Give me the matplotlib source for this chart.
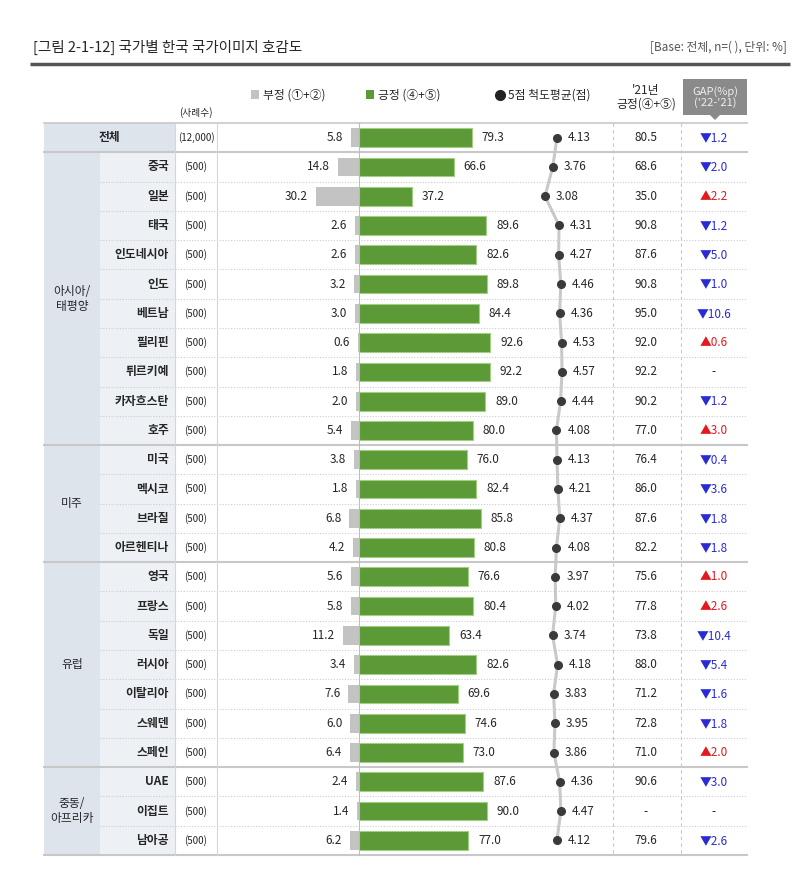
import matplotlib.pyplot as plt
from matplotlib.patches import Rectangle, Polygon

plt.rcParams['font.family'] = ['Noto Sans CJK KR', 'DejaVu Sans']

# data
countries = ['전체', '중국', '일본', '태국', '인도네시아', '인도', '베트남', '필리핀', '튀르키예',
             '카자흐스탄', '호주', '미국', '멕시코', '브라질', '아르헨티나', '영국', '프랑스',
             '독일', '러시아', '이탈리아', '스웨덴', '스페인', 'UAE', '이집트', '남아공']
samples = ['(12,000)'] + ['(500)'] * 24
negative = [5.8, 14.8, 30.2, 2.6, 2.6, 3.2, 3.0, 0.6, 1.8, 2.0, 5.4, 3.8, 1.8, 6.8, 4.2,
            5.6, 5.8, 11.2, 3.4, 7.6, 6.0, 6.4, 2.4, 1.4, 6.2]
positive = [79.3, 66.6, 37.2, 89.6, 82.6, 89.8, 84.4, 92.6, 92.2, 89.0, 80.0, 76.0, 82.4,
            85.8, 80.8, 76.6, 80.4, 63.4, 82.6, 69.6, 74.6, 73.0, 87.6, 90.0, 77.0]
means = [4.13, 3.76, 3.08, 4.31, 4.27, 4.46, 4.36, 4.53, 4.57, 4.44, 4.08, 4.13, 4.21,
         4.37, 4.08, 3.97, 4.02, 3.74, 4.18, 3.83, 3.95, 3.86, 4.36, 4.47, 4.12]
positive_21 = [80.5, 68.6, 35.0, 90.8, 87.6, 90.8, 95.0, 92.0, 92.2, 90.2, 77.0, 76.4, 86.0,
               87.6, 82.2, 75.6, 77.8, 73.8, 88.0, 71.2, 72.8, 71.0, 90.6, None, 79.6]
gaps = [-1.2, -2.0, 2.2, -1.2, -5.0, -1.0, -10.6, 0.6, None, -1.2, 3.0, -0.4, -3.6, -1.8,
        -1.8, 1.0, 2.6, -10.4, -5.4, -1.6, -1.8, 2.0, -3.0, None, -2.6]
regions = ['아시아/\n태평양', '미주', '유럽', '중동/\n아프리카']
region_rows = [(1, 10), (11, 14), (15, 21), (22, 24)]

# layout (pixels)
W, H = 800, 876
TOP, BOTTOM = 123, 855
n = len(countries)
RH = (BOTTOM - TOP) / n
X_L, X_REG, X_CTRY, X_SAMP, X_ZERO, X_D1, X_D2, X_R = 44, 100, 175, 217, 359, 613, 681, 747
TXT = '#262626'
GREEN = '#5b9a36'
GRAY = '#c3c3c3'
BLUE = '#2b2bd6'
RED = '#e3191e'
FS = 8.5


def yc(i):
    return TOP + (i + 0.5) * RH


fig = plt.figure(figsize=(W / 100, H / 100), dpi=100)
bg = fig.add_axes([0, 0, 1, 1])
bg.set_xlim(0, W)
bg.set_ylim(H, 0)
bg.axis('off')

# title
bg.text(33, 47, '[그림 2-1-12] 국가별 한국 국가이미지 호감도', fontsize=10.5, color=TXT, va='center')
bg.text(787, 47, '[Base: 전체, n=( ), 단위: %]', fontsize=8.5, color='#555555', va='center', ha='right')
bg.plot([30, 790], [64, 64], color='#555555', lw=2.5, solid_capstyle='butt')

# header
bg.add_patch(Rectangle((251, 90), 8, 9, color=GRAY, lw=0))
bg.text(263, 95, '부정 (①+②)', fontsize=FS, color=TXT, va='center')
bg.add_patch(Rectangle((366, 90), 8, 9, color=GREEN, lw=0))
bg.text(378, 95, '긍정 (④+⑤)', fontsize=FS, color=TXT, va='center')
bg.plot(500, 95, 'o', color='#222222', ms=7)
bg.text(508, 95, '5점 척도평균(점)', fontsize=FS, color=TXT, va='center')
bg.text(196, 113, '(사례수)', fontsize=7, color=TXT, va='center', ha='center')
bg.text(646, 97, "'21년\n긍정(④+⑤)", fontsize=FS, color=TXT, va='center', ha='center',
        linespacing=1.05)
bg.add_patch(Polygon([(683, 79), (747, 79), (747, 115), (720, 115), (715, 120), (710, 115),
                      (683, 115)], closed=True, color='#8a8a8a', lw=0))
bg.text(715, 97, "GAP(%p)\n('22-'21)", fontsize=8, color='#eeeeee', va='center', ha='center',
        linespacing=1.05)

# table backgrounds
bg.add_patch(Rectangle((X_L, TOP), X_CTRY - X_L, RH, color='#dde4ec', lw=0))
bg.add_patch(Rectangle((X_L, TOP + RH), X_REG - X_L, BOTTOM - TOP - RH, color='#dde4ec', lw=0))
bg.add_patch(Rectangle((X_REG, TOP + RH), X_CTRY - X_REG, BOTTOM - TOP - RH, color='#edf1f5', lw=0))

# grid lines
bg.plot([X_L, X_R], [TOP, TOP], color='#c8c8c8', lw=1.2)
bg.plot([X_L, X_R], [BOTTOM, BOTTOM], color='#c8c8c8', lw=1.5)
group_starts = [1] + [r[0] for r in region_rows[1:]]
for s in group_starts:
    y = TOP + s * RH
    bg.plot([X_L, X_R], [y, y], color='#c8c8c8', lw=1.5)
for s, e in region_rows:
    for i in range(s + 1, e + 1):
        y = TOP + i * RH
        bg.plot([X_REG, X_R], [y, y], color='#cccccc', lw=0.8, ls=(0, (1, 1.5)))
for x in (X_CTRY, X_SAMP):
    bg.plot([x, x], [TOP, BOTTOM], color='#d6d6d6', lw=0.8)
bg.plot([X_ZERO, X_ZERO], [TOP, BOTTOM], color='#bdbdbd', lw=0.8)
for x in (X_D1, X_D2):
    bg.plot([x, x], [TOP, BOTTOM], color='#c8c8c8', lw=0.8, ls=(0, (3, 3)))

# table texts
bg.text((X_L + X_CTRY) / 2, yc(0), countries[0], fontsize=FS, color=TXT, ha='center',
        va='center', weight='bold')
for i in range(1, n):
    bg.text(X_CTRY - 6, yc(i), countries[i], fontsize=FS, color=TXT, ha='right', va='center',
            weight='bold')
for (s, e), name in zip(region_rows, regions):
    bg.text((X_L + X_REG) / 2, (yc(s) + yc(e)) / 2, name, fontsize=FS, color=TXT,
            ha='center', va='center', linespacing=1.2)
for i in range(n):
    bg.text((X_CTRY + X_SAMP) / 2, yc(i), samples[i], fontsize=7, color=TXT,
            ha='center', va='center')
    p21 = '-' if positive_21[i] is None else f'{positive_21[i]:.1f}'
    bg.text(646, yc(i), p21, fontsize=FS, color=TXT, ha='center', va='center')
    g = gaps[i]
    if g is None:
        bg.text(714, yc(i), '-', fontsize=FS, color=TXT, ha='center', va='center')
    else:
        sym = '▲' if g > 0 else '▼'
        bg.text(714, yc(i), f'{sym}{abs(g):.1f}', fontsize=FS, color=RED if g > 0 else BLUE,
                ha='center', va='center')

# bar axes
rect = [X_SAMP / W, (H - BOTTOM) / H, (X_D1 - X_SAMP) / W, (BOTTOM - TOP) / H]
ax = fig.add_axes(rect)
scale = 1.42
ax.set_xlim(-(X_ZERO - X_SAMP) / scale, (X_D1 - X_ZERO) / scale)
ax.set_ylim(n - 0.5, -0.5)
ax.axis('off')
rows = list(range(n))
ax.barh(rows, [-v for v in negative], height=0.64, color=GRAY, lw=0)
ax.barh(rows, positive, height=0.64, color=GREEN, edgecolor='#a3cf85', lw=0.8)
for i in rows:
    ax.annotate(f'{negative[i]:.1f}', xy=(-negative[i], i), xytext=(-8, 0),
                textcoords='offset pixels', ha='right', va='center', fontsize=FS, color=TXT)
    ax.annotate(f'{positive[i]:.1f}', xy=(positive[i], i), xytext=(10, 0),
                textcoords='offset pixels', ha='left', va='center', fontsize=FS, color=TXT)

# mean axes
ax2 = fig.add_axes(rect)
ax2.patch.set_alpha(0)
ax2.set_xlim(3.08 - (545 - X_SAMP) / 11.43, 3.08 + (X_D1 - 545) / 11.43)
ax2.set_ylim(n - 0.5, -0.5)
ax2.axis('off')
ax2.plot(means, rows, color='#c9c9c9', lw=2.2, zorder=1)
ax2.plot(means, rows, 'o', color='#3a3a3a', ms=5.5, zorder=2)
for i in rows:
    ax2.annotate(f'{means[i]:.2f}', xy=(means[i], i), xytext=(11, 0),
                 textcoords='offset pixels', ha='left', va='center', fontsize=FS, color=TXT)

fig.savefig('out.png', dpi=100)
